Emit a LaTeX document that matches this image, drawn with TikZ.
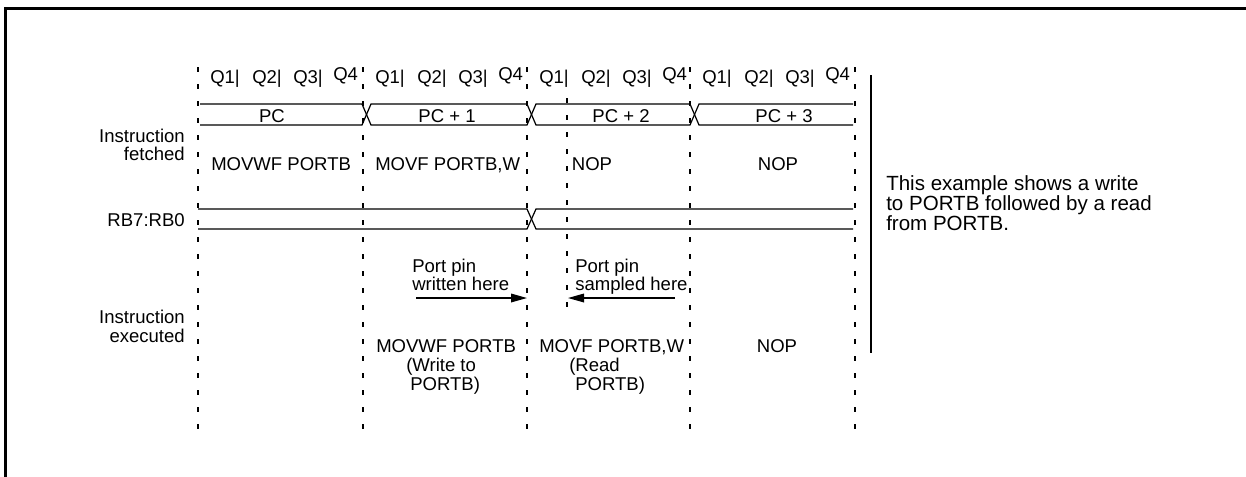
\documentclass[tikz,border=0pt]{standalone}
\usepackage{fontspec}
\setmainfont{Liberation Sans}
\usetikzlibrary{arrows.meta}
\begin{document}
\begin{tikzpicture}[x=0.75pt,y=-0.75pt,
  txt/.style={inner sep=0pt, font=\fontsize{13.9}{16}\selectfont},
  note/.style={inner sep=0pt, font=\fontsize{15.4}{16}\selectfont},
  gridline/.style={line width=1pt, dash pattern=on 3.75pt off 9pt},
  busline/.style={line width=0.9pt},
  arr/.style={line width=0.9pt, -{Triangle[length=12pt,width=6.5pt]}}]
\useasboundingbox (0,0) rectangle (1246,476);
% frame
\draw[line width=2pt] (5.5,8.5) rectangle (1300,520);
% cycle boundaries
\foreach \x/\n in {198/g0,363/g1,527/g2,690/g3,855/g4}{
  \coordinate (\n t) at (\x,67);
  \coordinate (\n b) at (\x,440);
  \draw[gridline] (\n t) -- (\n b);
}
\coordinate (smpt) at (567,98);
\coordinate (smpb) at (567,312);
\draw[gridline] (smpt) -- (smpb);
% Q labels
\foreach \s [count=\i] in {198,363,527,690}{
  \node[txt, anchor=base west] (qa\i) at (\s+12,83) {Q1|};
  \node[txt, anchor=base west] (qb\i) at (\s+54,83) {Q2|};
  \node[txt, anchor=base west] (qc\i) at (\s+95,83) {Q3|};
  \node[txt, anchor=base west] (qd\i) at (\s+135,80) {Q4};
}
% PC bus
\draw[busline] (200,104) -- (362,104) -- (371,125) -- (527,125) -- (536,104) -- (690,104) -- (699,125) -- (853,125);
\draw[busline] (200,125) -- (362,125) -- (371,104) -- (527,104) -- (536,125) -- (690,125) -- (699,104) -- (853,104);
\node[txt, anchor=base] (pc0) at (272,122) {PC};
\node[txt, anchor=base] (pc1) at (447,122) {PC + 1};
\node[txt, anchor=base] (pc2) at (621,122) {PC + 2};
\node[txt, anchor=base] (pc3) at (784,122) {PC + 3};
% fetched
\node[txt, anchor=base east] (if1) at (185,142) {Instruction};
\node[txt, anchor=base east] (if2) at (185,160) {fetched};
\node[txt, anchor=base west] (f1) at (211,170) {MOVWF PORTB};
\node[txt, anchor=base west] (f2) at (375,170) {MOVF PORTB,W};
\node[txt, anchor=base] (f3) at (592,170) {NOP};
\node[txt, anchor=base] (f4) at (778,170) {NOP};
% RB bus
\node[txt, anchor=base east] (rb) at (185,226) {RB7:RB0};
\draw[busline] (198,209) -- (527,209) -- (536,229) -- (853,229);
\draw[busline] (198,229) -- (527,229) -- (536,209) -- (853,209);
% port pin notes
\node[txt, anchor=base west] (pw1) at (412,272) {Port pin};
\node[txt, anchor=base west] (pw2) at (412,290) {written here};
\node[txt, anchor=base west] (ps1) at (575,272) {Port pin};
\node[txt, anchor=base west] (ps2) at (575,290) {sampled here};
\coordinate (wS) at (416,298);
\coordinate (wE) at (527,298);
\coordinate (sS) at (675,298);
\coordinate (sE) at (568,298);
\draw[arr] (wS) -- (wE);
\draw[arr] (sS) -- (sE);
% executed
\node[txt, anchor=base east] (ie1) at (185,323) {Instruction};
\node[txt, anchor=base east] (ie2) at (185,342) {executed};
\node[txt, anchor=base west] (e1) at (376,352) {MOVWF PORTB};
\node[txt, anchor=base west] (e1b) at (406,371) {(Write to};
\node[txt, anchor=base west] (e1c) at (410,390) {PORTB)};
\node[txt, anchor=base west] (e2) at (539,352) {MOVF PORTB,W};
\node[txt, anchor=base west] (e2b) at (569,371) {(Read};
\node[txt, anchor=base west] (e2c) at (575,390) {PORTB)};
\node[txt, anchor=base] (e3) at (777,352) {NOP};
% separator and note
\coordinate (sepT) at (871,75);
\coordinate (sepB) at (871,353);
\draw[line width=2.2pt] (sepT) -- (sepB);
\node[note, anchor=base west] (n1) at (886,190) {This example shows a write};
\node[note, anchor=base west] (n2) at (886,210) {to PORTB followed by a read};
\node[note, anchor=base west] (n3) at (886,230) {from PORTB.};
\end{tikzpicture}
\end{document}
